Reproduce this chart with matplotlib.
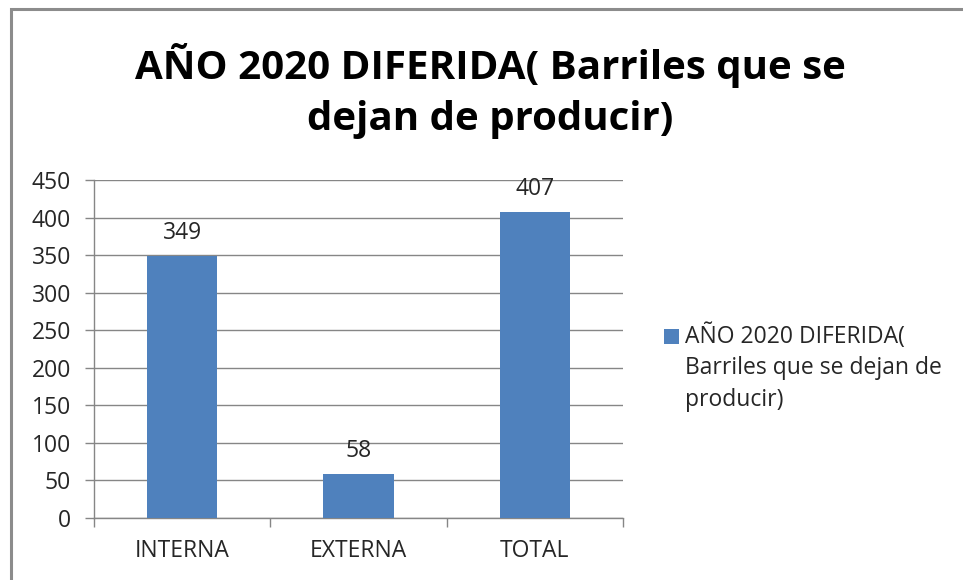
import matplotlib
matplotlib.use('Agg')
import matplotlib.pyplot as plt
from matplotlib.patches import Rectangle

# data
categories = ['INTERNA', 'EXTERNA', 'TOTAL']
values = [349, 58, 407]
series_name = 'AÑO 2020 DIFERIDA(\nBarriles que se dejan de\nproducir)'
title = 'AÑO 2020 DIFERIDA( Barriles que se\ndejan de producir)'
yticks = list(range(0, 451, 50))

bar_color = '#4F81BD'
grid_color = '#868686'
text_color = '#262626'
fs = 16.5

plt.rcParams['font.family'] = ['Open Sans', 'DejaVu Sans']

fig = plt.figure(figsize=(9.63, 5.80), dpi=100)
W, H = 963, 580

# chart frame
fig.patches.append(Rectangle((11 / W, -0.05), 2.0, 1.0 - 9 / H + 0.05, transform=fig.transFigure,
                             fill=False, edgecolor='#8c8c8c', linewidth=2.2))

ax = fig.add_axes([94 / W, 1 - 518 / H, (623 - 94) / W, (518 - 180) / H])
x = list(range(len(categories)))
bars = ax.bar(x, values, width=0.4, color=bar_color, zorder=3)
ax.set_xlim(-0.5, 2.5)
ax.set_ylim(0, 450)
ax.set_yticks(yticks)
ax.yaxis.grid(True, color=grid_color, linewidth=1.0, zorder=0)

for s in ['top', 'right']:
    ax.spines[s].set_visible(False)
for s in ['left', 'bottom']:
    ax.spines[s].set_color(grid_color)
    ax.spines[s].set_linewidth(1.0)

ax.set_xticks(x)
ax.set_xticklabels(categories)
ax.set_xticks([-0.5, 0.5, 1.5, 2.5], minor=True)
ax.tick_params(axis='x', which='major', length=0, pad=15, labelsize=fs, labelcolor=text_color)
ax.tick_params(axis='x', which='minor', length=6.5, color=grid_color, width=1.0)
ax.tick_params(axis='y', length=6.5, color=grid_color, width=1.0, pad=10, labelsize=fs,
               labelcolor=text_color)

for xi, v in zip(x, values):
    ax.annotate(str(v), (xi, v), xytext=(0, 8), textcoords='offset points', ha='center',
                va='bottom', fontsize=fs, color=text_color)

fig.text(490 / W, 1 - 91 / H, title, ha='center', va='center', fontsize=29, fontweight='bold',
         linespacing=1.4, color='black')

# legend (handle aligned with first line of the label)
fig.patches.append(Rectangle((664 / W, 1 - 344 / H), 15 / W, 15 / H, transform=fig.transFigure,
                             facecolor=bar_color, edgecolor='none'))
fig.text(685 / W, 1 - 323 / H, series_name, ha='left', va='top', fontsize=fs,
         linespacing=1.43, color=text_color)

fig.savefig('out.png', dpi=100)
